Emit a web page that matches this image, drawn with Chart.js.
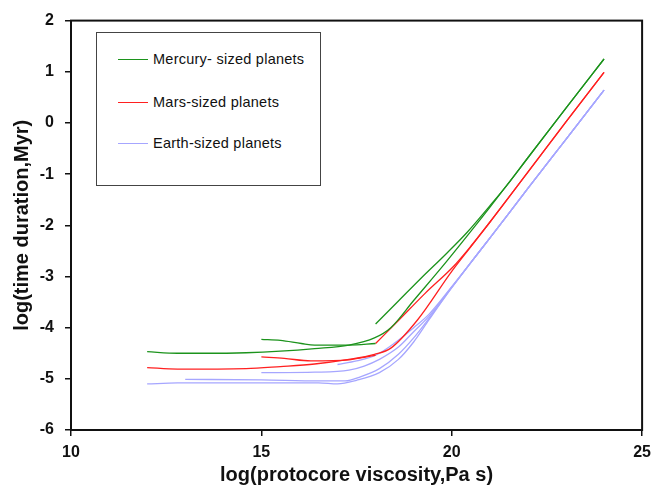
<!DOCTYPE html>
<html lang="en">
<head>
<meta charset="UTF-8">
<title>Time duration vs protocore viscosity</title>
<script src="https://cdn.jsdelivr.net/npm/chart.js"></script>
<style>
  html, body { margin: 0; padding: 0; background: #fff; }
  #wrap { position: relative; width: 658px; height: 487px; }
  #legend {
    position: absolute; left: 96px; top: 32px; width: 223px; height: 152px;
    border: 1px solid #444; background: #fff;
    font-family: "Liberation Sans", Arial, sans-serif; font-size: 14.5px; letter-spacing: 0.25px; color: #111;
  }
  .row { position: absolute; left: 21px; height: 16px; display: flex; align-items: center; white-space: nowrap; }
  .swatch { width: 30px; height: 0; border-top: 1.5px solid; margin-right: 5px; }
</style>
</head>
<body>
<div id="wrap">
  <canvas id="chart" width="658" height="487"></canvas>
  <div id="legend"></div>
</div>
<script>
// axis ticks
const xTicks = [10, 15, 20, 25];
const yTicks = [-6, -5, -4, -3, -2, -1, 0, 1, 2];

// legend groups
const groupNames = ['Mercury- sized planets', 'Mars-sized planets', 'Earth-sized planets'];

// Mercury-sized planets, [log viscosity, log time]
const mercury1 = [[12, -4.47], [12.8, -4.5], [13.5, -4.5], [14.6, -4.49], [15.5, -4.46], [16.4, -4.41], [17.3, -4.34],
  [17.97, -4.2], [18.4, -4.0], [19.0, -3.47], [19.85, -2.72], [20.5, -2.12], [21, -1.65], [22, -0.68], [23, 0.29], [24, 1.25]];
const mercury2 = [[15, -4.23], [15.5, -4.25], [16.05, -4.31], [16.4, -4.34], [17.3, -4.34], [18, -4.31]];
const mercury3 = [[18, -3.93], [18.6, -3.48], [19.2, -3.03], [19.85, -2.56], [20.4, -2.14], [21, -1.62], [21.5, -1.17],
  [22, -0.68], [23, 0.29], [24, 1.25]];

// Mars-sized planets
const mars1 = [[12, -4.78], [12.8, -4.81], [14.6, -4.8], [15.5, -4.76], [16.4, -4.71], [17.3, -4.62], [17.97, -4.52],
  [18.4, -4.4], [19.1, -3.85], [20, -2.9], [20.5, -2.42], [21, -1.94], [22, -0.96], [23, 0.02], [24, 0.99]];
const mars2 = [[15, -4.57], [15.6, -4.6], [16.3, -4.65], [17.3, -4.63], [17.7, -4.58], [18, -4.54]];
const mars3 = [[18, -4.31], [18.6, -3.86], [19.3, -3.33], [20.05, -2.8], [20.5, -2.41], [21, -1.94], [22, -0.96],
  [23, 0.02], [24, 0.99]];

// Earth-sized planets
const earth1 = [[12, -5.1], [12.8, -5.08], [15, -5.08], [16.5, -5.08], [17, -5.1], [17.5, -5.03], [18.1, -4.88],
  [18.6, -4.62], [19.0, -4.28], [19.4, -3.85], [20, -3.22], [20.5, -2.73], [21, -2.25], [22, -1.28], [23, -0.32], [24, 0.64]];
const earth2 = [[13, -5.01], [15, -5.02], [16.5, -5.04], [17.2, -5.04], [17.6, -4.96], [18.1, -4.8], [18.6, -4.52],
  [19.0, -4.2], [19.4, -3.82], [20, -3.22], [20.5, -2.73], [21, -2.25], [22, -1.28], [23, -0.32], [24, 0.64]];
const earth3 = [[15, -4.88], [16.4, -4.87], [17.3, -4.83], [17.7, -4.75], [18.1, -4.62], [18.6, -4.38], [19.0, -4.08],
  [19.4, -3.78], [20, -3.21], [20.5, -2.73], [21, -2.25], [22, -1.28], [23, -0.32], [24, 0.64]];
const earth4 = [[17, -4.72], [17.5, -4.65], [18.0, -4.54], [18.5, -4.3], [19.0, -4.0], [19.4, -3.74], [20, -3.2],
  [20.5, -2.73], [21, -2.25], [22, -1.28], [23, -0.32], [24, 0.64]];

const groupColors = ['#1c931c', '#ff2020', '#a6a6ff'];
const groupCurves = [[mercury1, mercury2, mercury3], [mars1, mars2, mars3], [earth1, earth2, earth3, earth4]];

const datasets = [];
groupCurves.forEach((curves, g) => {
  curves.forEach(c => {
    datasets.push({
      label: groupNames[g],
      data: c.map(p => ({ x: p[0], y: p[1] })),
      borderColor: groupColors[g],
      borderWidth: 1.3,
      showLine: true,
      pointRadius: 0,
      cubicInterpolationMode: 'monotone'
    });
  });
});

// html legend
const legend = document.getElementById('legend');
const rowTops = [18, 61, 102];
groupNames.forEach((name, i) => {
  const row = document.createElement('div');
  row.className = 'row';
  row.style.top = rowTops[i] + 'px';
  row.innerHTML = '<span class="swatch" style="border-color:' + groupColors[i] + '"></span><span>' + name + '</span>';
  legend.appendChild(row);
});

const frame = {
  id: 'frame',
  afterDraw(chart) {
    const { ctx, chartArea: a } = chart;
    ctx.save();
    ctx.strokeStyle = '#111';
    ctx.lineWidth = 2;
    ctx.strokeRect(a.left, a.top, a.right - a.left, a.bottom - a.top);
    ctx.restore();
  }
};

const tickFont = { family: '"Liberation Sans", Arial, sans-serif', size: 16, weight: 'bold' };
const titleFont = { family: '"Liberation Sans", Arial, sans-serif', size: 20, weight: 'bold' };

new Chart(document.getElementById('chart'), {
  type: 'scatter',
  data: { datasets },
  options: {
    responsive: false,
    animation: false,
    layout: { padding: { top: 15, right: 12, left: 0, bottom: 0 } },
    plugins: { legend: { display: false }, tooltip: { enabled: false } },
    scales: {
      x: {
        type: 'linear',
        min: xTicks[0], max: xTicks[xTicks.length - 1],
        afterBuildTicks: s => { s.ticks = xTicks.map(v => ({ value: v })); },
        afterFit: s => { s.height = 57; },
        ticks: { font: tickFont, color: '#111', padding: 7 },
        grid: { drawOnChartArea: false, drawTicks: true, tickLength: 6, color: '#111', lineWidth: 1.5 },
        border: { color: '#111', width: 2 },
        title: { display: true, text: 'log(protocore viscosity,Pa s)', font: titleFont, color: '#111', padding: { top: 0, bottom: 0 } }
      },
      y: {
        type: 'linear',
        min: yTicks[0], max: yTicks[yTicks.length - 1],
        afterBuildTicks: s => { s.ticks = yTicks.map(v => ({ value: v })); },
        afterFit: s => { s.width = 71; },
        ticks: { font: tickFont, color: '#111', padding: 11 },
        grid: { drawOnChartArea: false, drawTicks: true, tickLength: 6, color: '#111', lineWidth: 1.5 },
        border: { color: '#111', width: 2 },
        title: { display: true, text: 'log(time duration,Myr)', font: titleFont, color: '#111', padding: { top: 10, bottom: 0 } }
      }
    }
  },
  plugins: [frame]
});
</script>
</body>
</html>
